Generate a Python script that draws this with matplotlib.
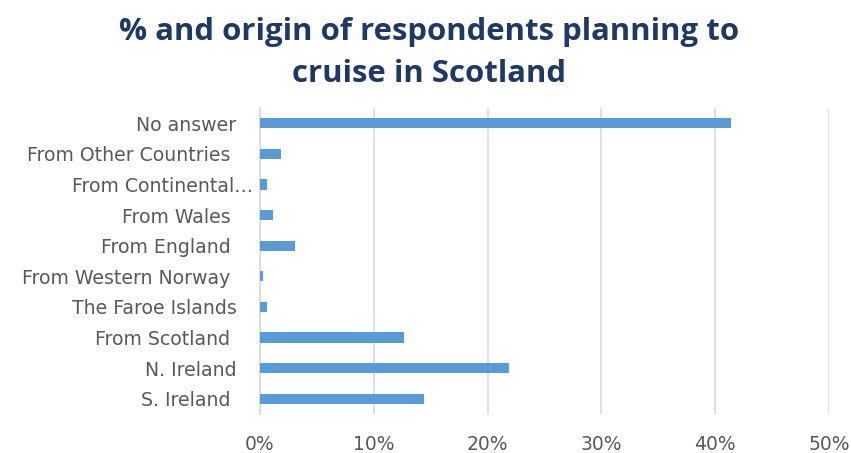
import matplotlib
matplotlib.use("Agg")
import matplotlib.pyplot as plt
import matplotlib.transforms as mtransforms
from matplotlib.ticker import PercentFormatter

categories = [
    "S. Ireland ",
    "N. Ireland",
    "From Scotland ",
    "The Faroe Islands",
    "From Western Norway ",
    "From England ",
    "From Wales ",
    "From Continental…",
    "From Other Countries ",
    "No answer",
]
shares = [0.144, 0.219, 0.127, 0.006, 0.0025, 0.031, 0.0115, 0.006, 0.0182, 0.414]
x_ticks = [0.0, 0.1, 0.2, 0.3, 0.4, 0.5]
title_lines = ["% and origin of respondents planning to", "cruise in Scotland"]

plt.rcParams["font.family"] = ["DejaVu Sans"]

fig = plt.figure(figsize=(8.51, 4.53), dpi=100)
ax = fig.add_axes([0.3055, 0.0861, 0.6685, 0.6755])

ax.barh(range(len(categories)), shares, height=0.33, color="#5B9BD5", zorder=3)

ax.set_xlim(0, 0.5)
ax.set_ylim(-0.5, len(categories) - 0.5)
ax.set_xticks(x_ticks)
ax.xaxis.set_major_formatter(PercentFormatter(1.0, decimals=0))
ax.set_yticks(range(len(categories)))
ax.set_yticklabels(categories, fontsize=13.6)

ax.grid(axis="x", color="#D9D9D9", linewidth=1.2, zorder=0)
for s in ("top", "right", "bottom"):
    ax.spines[s].set_visible(False)
ax.spines["left"].set_color("#D9D9D9")
ax.spines["left"].set_linewidth(1.2)

ax.tick_params(axis="both", length=0, colors="#595959")
ax.tick_params(axis="x", pad=15, labelsize=13.5)
ax.tick_params(axis="y", pad=17)

# the long truncated label overflows towards the axis
for lbl in ax.get_yticklabels():
    if lbl.get_text().endswith("…"):
        shift = mtransforms.ScaledTranslation(12 / 72, 0, fig.dpi_scale_trans)
        lbl.set_transform(lbl.get_transform() + shift)

for i, line in enumerate(title_lines):
    fig.text(0.504, 0.930 - i * 0.0927, line, ha="center", va="center",
             fontsize=22.4, fontweight="bold", color="#1F3864",
             family=["Open Sans", "DejaVu Sans"])

fig.savefig("out.png", dpi=100, facecolor="white")
